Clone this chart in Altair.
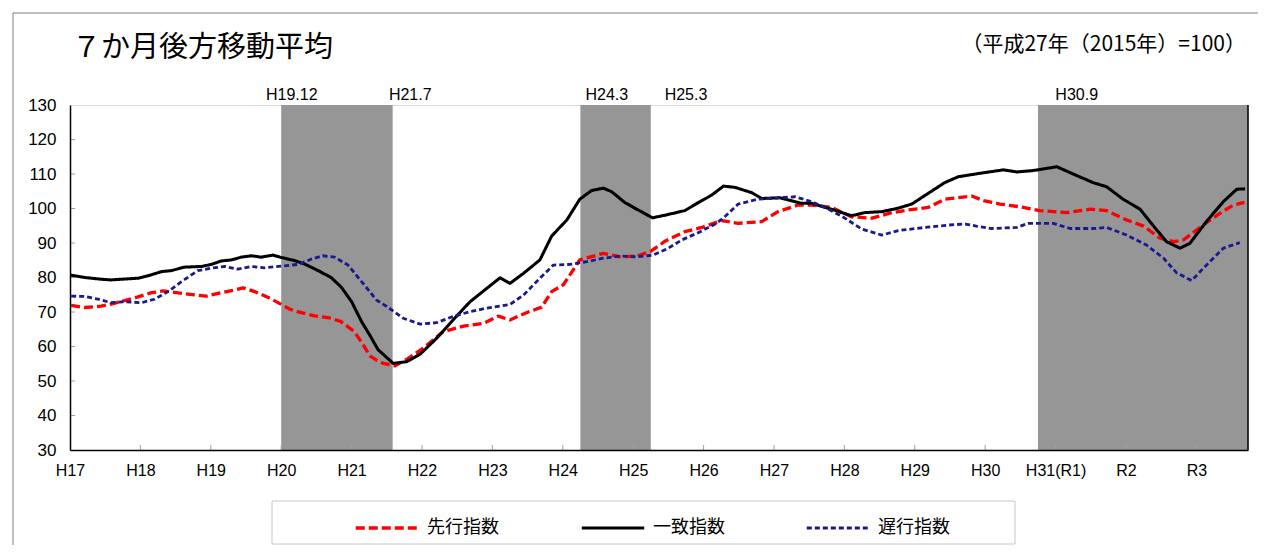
import json
import altair as alt
import pandas as pd

# ---------------- data ----------------
TITLE = "７か月後方移動平均"
BASE_NOTE = "（平成27年（2015年）=100）"
SERIES = ["先行指数", "一致指数", "遅行指数"]
COLORS = ["#FF0000", "#000000", "#1a1a8f"]
DASHES = [[9, 4], [1, 0], [5, 3]]
WIDTHS = [3.3, 2.8, 1.0]

x_labels = ["H17", "H18", "H19", "H20", "H21", "H22", "H23", "H24", "H25",
            "H26", "H27", "H28", "H29", "H30", "H31(R1)", "R2", "R3"]
x_tick_months = [0, 12, 24, 36, 48, 60, 72, 84, 96, 108, 120, 132, 144, 156, 168, 180, 192]
y_ticks = [30, 40, 50, 60, 70, 80, 90, 100, 110, 120, 130]

# months since H17.1 (position on the axis) and index values
lead_month = [0.2, 2.5, 5.3, 7.0, 9.3, 11.6, 13.9, 15.9, 17.8, 20.1, 23.2, 25.8, 28.1, 29.5,
              31.5, 33.7, 35.7, 37.5, 39.4, 41.7, 44.5, 46.2, 48.5, 50.2, 51.1, 52.2, 53.4,
              55.4, 57.4, 60.2, 63.6, 67.1, 70.5, 73.0, 75.0, 77.8, 80.4, 82.1, 84.1, 86.9,
              90.9, 93.8, 96.6, 98.9, 101.5, 104.8, 107.7, 111.1, 113.9, 117.9, 120.7, 124.1,
              126.4, 129.8, 133.2, 136.7, 140.1, 142.9, 146.3, 149.1, 152.6, 153.7, 155.7,
              158.5, 161.9, 165.3, 169.9, 173.9, 176.7, 180.1, 183.0, 185.8, 188.1, 189.8,
              192.6, 196.0, 198.3, 200.2]
lead_value = [71.9, 71.3, 71.7, 72.3, 73.3, 74.4, 75.6, 76.1, 75.7, 75.2, 74.6, 75.6, 76.4, 77.0,
              75.9, 74.3, 72.5, 70.8, 69.8, 68.9, 68.2, 67.2, 64.3, 59.9, 57.3, 56.1, 55.1,
              54.4, 56.3, 59.5, 64.3, 65.9, 66.7, 68.8, 67.7, 69.8, 71.4, 75.9, 77.9, 85.1,
              87.0, 86.0, 86.2, 87.5, 90.6, 93.3, 94.5, 96.5, 95.7, 96.2, 99.1, 101.0,
              101.0, 100.3, 97.6, 97.2, 98.8, 99.6, 100.3, 102.7, 103.4, 103.6, 102.3,
              101.3, 100.5, 99.4, 98.8, 99.8, 99.4, 96.7, 94.9, 91.4, 90.4, 90.9,
              94.5, 98.6, 101.0, 101.8]

coin_month = [0.1, 2.5, 5.3, 7.0, 8.8, 11.6, 13.3, 15.6, 17.3, 19.5, 22.4, 24.1, 25.8, 27.5,
              29.2, 30.9, 32.6, 34.6, 36.0, 38.3, 40.0, 42.3, 44.5, 46.2, 48.0, 49.7, 51.1,
              52.5, 55.1, 57.4, 59.7, 62.5, 65.3, 68.2, 70.7, 73.3, 75.0, 77.3, 80.1, 82.1,
              84.7, 86.9, 88.9, 90.9, 92.3, 94.6, 96.6, 99.3, 101.8, 104.8, 107.1, 109.4,
              111.4, 113.4, 116.2, 117.9, 121.0, 124.7, 126.4, 129.8, 133.2, 135.5, 138.4,
              141.2, 143.5, 146.3, 149.1, 151.4, 155.1, 159.1, 161.4, 164.2, 168.2, 171.0,
              174.4, 176.7, 179.5, 182.4, 184.7, 186.9, 189.2, 190.9, 193.7, 196.6, 198.9,
              200.3]
coin_value = [80.7, 80.0, 79.5, 79.3, 79.5, 79.8, 80.5, 81.7, 82.0, 83.0, 83.2, 83.8, 84.8, 85.1,
              85.9, 86.3, 85.9, 86.5, 85.8, 84.9, 83.9, 82.0, 80.0, 77.3, 73.0, 67.2, 63.3,
              59.1, 55.1, 55.6, 57.8, 62.4, 67.7, 73.0, 76.4, 79.9, 78.3, 81.2, 85.1, 92.0,
              96.7, 102.7, 105.2, 105.9, 104.9, 101.7, 99.8, 97.3, 98.2, 99.4, 101.7, 103.9,
              106.5, 106.1, 104.6, 102.9, 103.1, 101.5, 101.5, 99.8, 97.9, 98.8, 99.1,
              100.1, 101.3, 104.4, 107.5, 109.2, 110.2, 111.2, 110.6, 111.0, 112.1, 110.0,
              107.5, 106.3, 102.7, 99.8, 94.9, 90.4, 88.5, 89.9, 96.2, 102.0, 105.6,
              105.7]

lag_month = [0.2, 2.5, 4.8, 7.0, 9.3, 12.2, 14.4, 16.7, 19.0, 21.8, 24.1, 26.4, 28.6, 30.9,
             33.2, 36.0, 38.9, 41.1, 43.1, 45.1, 47.4, 49.7, 51.1, 52.2, 54.0, 56.8, 59.7,
             62.5, 65.3, 68.2, 71.0, 75.0, 77.3, 80.1, 82.4, 85.2, 88.1, 90.9, 93.8, 96.6,
             99.4, 101.8, 104.3, 107.1, 110.0, 111.6, 113.9, 117.3, 120.7, 123.6, 126.4,
             129.3, 132.1, 135.0, 138.4, 141.2, 145.7, 149.7, 152.6, 154.5, 157.1, 161.4,
             163.3, 167.6, 170.5, 174.4, 176.7, 180.1, 183.5, 186.4, 188.6, 191.2, 193.2,
             196.6, 199.4]
lag_value = [74.6, 74.5, 73.7, 72.7, 73.0, 72.7, 73.7, 75.9, 78.8, 82.0, 82.7, 83.2, 82.4, 83.2,
             82.8, 83.3, 83.8, 85.3, 86.3, 85.9, 83.6, 78.8, 75.9, 73.5, 71.6, 68.2, 66.5,
             66.9, 68.7, 70.1, 71.1, 72.2, 74.9, 79.8, 83.6, 83.8, 84.6, 85.6, 86.2, 86.0,
             86.5, 88.3, 90.9, 93.0, 95.5, 97.6, 101.3, 102.7, 103.1, 103.4, 102.0,
             99.8, 97.2, 94.0, 92.3, 93.6, 94.5, 95.2, 95.5, 94.9, 94.2, 94.5,
             95.7, 95.7, 94.2, 94.2, 94.5, 92.3, 89.4, 85.6, 81.4, 79.1, 82.7,
             88.5, 90.1]

# recession shading (peak -> trough) and their labels
shade_start = [36, 87, 165]
shade_end = [55, 99, 200.8]
turn_labels = ["H19.12", "H21.7", "H24.3", "H25.3", "H30.9"]
turn_label_month = [37.8, 58.0, 91.5, 105.0, 171.6]

# ---------------- tables ----------------
lines_df = pd.concat([
    pd.DataFrame({"series": SERIES[0], "month": lead_month, "value": lead_value}),
    pd.DataFrame({"series": SERIES[1], "month": coin_month, "value": coin_value}),
    pd.DataFrame({"series": SERIES[2], "month": lag_month, "value": lag_value}),
], ignore_index=True)
shade_df = pd.DataFrame({"start": shade_start, "end": shade_end})
turn_df = pd.DataFrame({"label": turn_labels, "month": turn_label_month})
ytick_df = pd.DataFrame({"value": y_ticks[1:-1]})
xtick_df = pd.DataFrame({"month": x_tick_months[1:]})
one_df = pd.DataFrame({"k": [0]})

W, H = 1178, 345
LATIN = "Liberation Sans"
CJK = "Noto Sans CJK JP"
label_expr = json.dumps(x_labels) + "[round(datum.value / 12)]"

X_SCALE = alt.Scale(domain=[0, 200.8], nice=False, zero=False)
Y_SCALE = alt.Scale(domain=[30, 130], nice=False, zero=False)
X_AXIS = alt.Axis(values=x_tick_months, labelExpr=label_expr, title=None, grid=False,
                  ticks=False, domainColor="black", domainWidth=1.5, zindex=2,
                  labelFont=LATIN, labelFontSize=16, labelColor="black",
                  labelPadding=12, labelFlush=False)
Y_AXIS = alt.Axis(values=y_ticks, title=None, grid=False, ticks=False, zindex=2,
                  domainColor="black", domainWidth=1.5, labelFont=LATIN,
                  labelFontSize=17, labelColor="black", labelPadding=14)


def xenc(field):
    return alt.X(field, scale=X_SCALE, axis=X_AXIS)


def yenc(field):
    return alt.Y(field, scale=Y_SCALE, axis=Y_AXIS)


LEG = dict(title=None, orient="none", legendX=284, legendY=390, direction="horizontal",
           symbolType="stroke", symbolSize=3900, labelFont=CJK, labelFontSize=18,
           labelColor="black", labelOffset=7, columnPadding=76, padding=0, zindex=3)

shade = alt.Chart(shade_df).mark_rect(color="#969696").encode(
    x=xenc("start:Q"), x2="end:Q",
    y=alt.value(0), y2=alt.value(H),
)

yticks = alt.Chart(ytick_df).mark_rule(color="#a0a0a0", strokeWidth=1).encode(
    y=yenc("value:Q"), x=alt.value(0), x2=alt.value(5),
)
xticks = alt.Chart(xtick_df).mark_rule(color="#a0a0a0", strokeWidth=1).encode(
    x=xenc("month:Q"), y=alt.value(H), y2=alt.value(H - 5),
)

lines = alt.Chart(lines_df).mark_line(strokeJoin="round").encode(
    x=xenc("month:Q"),
    y=yenc("value:Q"),
    color=alt.Color("series:N", scale=alt.Scale(domain=SERIES, range=COLORS),
                    legend=alt.Legend(**LEG)),
    strokeDash=alt.StrokeDash("series:N", scale=alt.Scale(domain=SERIES, range=DASHES),
                              legend=alt.Legend(**LEG)),
    strokeWidth=alt.StrokeWidth("series:N", scale=alt.Scale(domain=SERIES, range=WIDTHS),
                                legend=alt.Legend(**LEG)),
)

turns = alt.Chart(turn_df).mark_text(font=LATIN, fontSize=16, color="black",
                                     align="center", baseline="alphabetic").encode(
    x=xenc("month:Q"), y=alt.value(-5), text="label:N",
)

title_text = alt.Chart(one_df).transform_calculate(t=json.dumps(TITLE)).mark_text(
    font=CJK, fontSize=29, color="black", align="left", baseline="middle"
).encode(x=alt.value(2), y=alt.value(-57), text="t:N")

note = alt.Chart(one_df).transform_calculate(t=json.dumps(BASE_NOTE)).mark_text(
    font=CJK, fontSize=21, color="black", align="right", baseline="middle"
).encode(x=alt.value(1176), y=alt.value(-60), text="t:N")

right_edge = alt.Chart(one_df).mark_rule(color="black", strokeWidth=1.5).encode(
    x=alt.value(W), y=alt.value(0), y2=alt.value(H)
)

legend_box = alt.Chart(one_df).mark_rect(filled=False, color="#c8c8c8", strokeWidth=1).encode(
    x=alt.value(202), x2=alt.value(945), y=alt.value(396), y2=alt.value(439)
)

outer_box = alt.Chart(one_df).mark_rect(filled=False, color="#808080", strokeWidth=1).encode(
    x=alt.value(-57), x2=alt.value(1400), y=alt.value(-92), y2=alt.value(700)
)

chart = alt.layer(
    outer_box, shade, yticks, xticks, lines, right_edge, turns, title_text, note, legend_box
).properties(
    width=W,
    height=H,
    autosize=alt.AutoSizeParams(type="none"),
    padding={"left": 62, "top": 97, "right": 10, "bottom": 95},
).configure_view(
    stroke="#888888", strokeWidth=1
).configure(background="white")

chart.save("out.html", embed_options={"renderer": "svg", "actions": False})
